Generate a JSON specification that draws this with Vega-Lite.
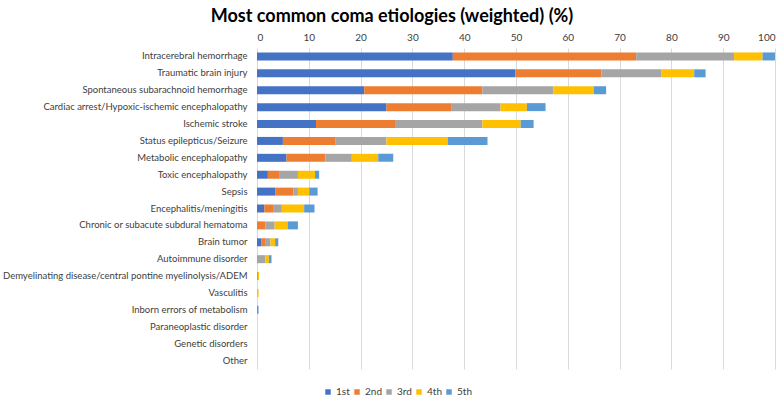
{
  "$schema": "https://vega.github.io/schema/vega-lite/v6.json",
  "width": 518,
  "height": 321,
  "autosize": {"type": "none"},
  "padding": {"left": 257, "top": 48, "right": 9, "bottom": 27},
  "background": "white",
  "title": {
    "text": "Most common coma etiologies (weighted) (%)",
    "font": "Lato",
    "fontSize": 18,
    "fontWeight": "bold",
    "color": "#000000",
    "anchor": "middle",
    "dx": -124,
    "offset": 6
  },
  "data": {
    "values": [
      {"etiology": "Intracerebral hemorrhage", "rank": "1st", "r": 1, "value": 37.8},
      {"etiology": "Intracerebral hemorrhage", "rank": "2nd", "r": 2, "value": 35.4},
      {"etiology": "Intracerebral hemorrhage", "rank": "3rd", "r": 3, "value": 18.9},
      {"etiology": "Intracerebral hemorrhage", "rank": "4th", "r": 4, "value": 5.5},
      {"etiology": "Intracerebral hemorrhage", "rank": "5th", "r": 5, "value": 2.4},
      {"etiology": "Traumatic brain injury", "rank": "1st", "r": 1, "value": 49.9},
      {"etiology": "Traumatic brain injury", "rank": "2nd", "r": 2, "value": 16.6},
      {"etiology": "Traumatic brain injury", "rank": "3rd", "r": 3, "value": 11.6},
      {"etiology": "Traumatic brain injury", "rank": "4th", "r": 4, "value": 6.3},
      {"etiology": "Traumatic brain injury", "rank": "5th", "r": 5, "value": 2.2},
      {"etiology": "Spontaneous subarachnoid hemorrhage", "rank": "1st", "r": 1, "value": 20.7},
      {"etiology": "Spontaneous subarachnoid hemorrhage", "rank": "2nd", "r": 2, "value": 22.8},
      {"etiology": "Spontaneous subarachnoid hemorrhage", "rank": "3rd", "r": 3, "value": 13.7},
      {"etiology": "Spontaneous subarachnoid hemorrhage", "rank": "4th", "r": 4, "value": 7.8},
      {"etiology": "Spontaneous subarachnoid hemorrhage", "rank": "5th", "r": 5, "value": 2.4},
      {"etiology": "Cardiac arrest/Hypoxic-ischemic encephalopathy", "rank": "1st", "r": 1, "value": 25.0},
      {"etiology": "Cardiac arrest/Hypoxic-ischemic encephalopathy", "rank": "2nd", "r": 2, "value": 12.6},
      {"etiology": "Cardiac arrest/Hypoxic-ischemic encephalopathy", "rank": "3rd", "r": 3, "value": 9.4},
      {"etiology": "Cardiac arrest/Hypoxic-ischemic encephalopathy", "rank": "4th", "r": 4, "value": 5.1},
      {"etiology": "Cardiac arrest/Hypoxic-ischemic encephalopathy", "rank": "5th", "r": 5, "value": 3.6},
      {"etiology": "Ischemic stroke", "rank": "1st", "r": 1, "value": 11.4},
      {"etiology": "Ischemic stroke", "rank": "2nd", "r": 2, "value": 15.4},
      {"etiology": "Ischemic stroke", "rank": "3rd", "r": 3, "value": 16.7},
      {"etiology": "Ischemic stroke", "rank": "4th", "r": 4, "value": 7.4},
      {"etiology": "Ischemic stroke", "rank": "5th", "r": 5, "value": 2.5},
      {"etiology": "Status epilepticus/Seizure", "rank": "1st", "r": 1, "value": 5.0},
      {"etiology": "Status epilepticus/Seizure", "rank": "2nd", "r": 2, "value": 10.2},
      {"etiology": "Status epilepticus/Seizure", "rank": "3rd", "r": 3, "value": 9.8},
      {"etiology": "Status epilepticus/Seizure", "rank": "4th", "r": 4, "value": 11.8},
      {"etiology": "Status epilepticus/Seizure", "rank": "5th", "r": 5, "value": 7.7},
      {"etiology": "Metabolic encephalopathy", "rank": "1st", "r": 1, "value": 5.7},
      {"etiology": "Metabolic encephalopathy", "rank": "2nd", "r": 2, "value": 7.5},
      {"etiology": "Metabolic encephalopathy", "rank": "3rd", "r": 3, "value": 5.1},
      {"etiology": "Metabolic encephalopathy", "rank": "4th", "r": 4, "value": 5.1},
      {"etiology": "Metabolic encephalopathy", "rank": "5th", "r": 5, "value": 2.9},
      {"etiology": "Toxic encephalopathy", "rank": "1st", "r": 1, "value": 2.1},
      {"etiology": "Toxic encephalopathy", "rank": "2nd", "r": 2, "value": 2.3},
      {"etiology": "Toxic encephalopathy", "rank": "3rd", "r": 3, "value": 3.5},
      {"etiology": "Toxic encephalopathy", "rank": "4th", "r": 4, "value": 3.3},
      {"etiology": "Toxic encephalopathy", "rank": "5th", "r": 5, "value": 0.8},
      {"etiology": "Sepsis", "rank": "1st", "r": 1, "value": 3.5},
      {"etiology": "Sepsis", "rank": "2nd", "r": 2, "value": 3.5},
      {"etiology": "Sepsis", "rank": "3rd", "r": 3, "value": 0.9},
      {"etiology": "Sepsis", "rank": "4th", "r": 4, "value": 2.2},
      {"etiology": "Sepsis", "rank": "5th", "r": 5, "value": 1.6},
      {"etiology": "Encephalitis/meningitis", "rank": "1st", "r": 1, "value": 1.4},
      {"etiology": "Encephalitis/meningitis", "rank": "2nd", "r": 2, "value": 1.7},
      {"etiology": "Encephalitis/meningitis", "rank": "3rd", "r": 3, "value": 1.7},
      {"etiology": "Encephalitis/meningitis", "rank": "4th", "r": 4, "value": 4.3},
      {"etiology": "Encephalitis/meningitis", "rank": "5th", "r": 5, "value": 2.0},
      {"etiology": "Chronic or subacute subdural hematoma", "rank": "1st", "r": 1, "value": 0},
      {"etiology": "Chronic or subacute subdural hematoma", "rank": "2nd", "r": 2, "value": 1.6},
      {"etiology": "Chronic or subacute subdural hematoma", "rank": "3rd", "r": 3, "value": 1.8},
      {"etiology": "Chronic or subacute subdural hematoma", "rank": "4th", "r": 4, "value": 2.5},
      {"etiology": "Chronic or subacute subdural hematoma", "rank": "5th", "r": 5, "value": 2.0},
      {"etiology": "Brain tumor", "rank": "1st", "r": 1, "value": 0.8},
      {"etiology": "Brain tumor", "rank": "2nd", "r": 2, "value": 0.9},
      {"etiology": "Brain tumor", "rank": "3rd", "r": 3, "value": 0.9},
      {"etiology": "Brain tumor", "rank": "4th", "r": 4, "value": 0.9},
      {"etiology": "Brain tumor", "rank": "5th", "r": 5, "value": 0.6},
      {"etiology": "Autoimmune disorder", "rank": "1st", "r": 1, "value": 0},
      {"etiology": "Autoimmune disorder", "rank": "2nd", "r": 2, "value": 0},
      {"etiology": "Autoimmune disorder", "rank": "3rd", "r": 3, "value": 1.6},
      {"etiology": "Autoimmune disorder", "rank": "4th", "r": 4, "value": 0.7},
      {"etiology": "Autoimmune disorder", "rank": "5th", "r": 5, "value": 0.5},
      {"etiology": "Demyelinating disease/central pontine myelinolysis/ADEM", "rank": "1st", "r": 1, "value": 0},
      {"etiology": "Demyelinating disease/central pontine myelinolysis/ADEM", "rank": "2nd", "r": 2, "value": 0},
      {"etiology": "Demyelinating disease/central pontine myelinolysis/ADEM", "rank": "3rd", "r": 3, "value": 0.2},
      {"etiology": "Demyelinating disease/central pontine myelinolysis/ADEM", "rank": "4th", "r": 4, "value": 0.2},
      {"etiology": "Demyelinating disease/central pontine myelinolysis/ADEM", "rank": "5th", "r": 5, "value": 0},
      {"etiology": "Vasculitis", "rank": "1st", "r": 1, "value": 0},
      {"etiology": "Vasculitis", "rank": "2nd", "r": 2, "value": 0},
      {"etiology": "Vasculitis", "rank": "3rd", "r": 3, "value": 0},
      {"etiology": "Vasculitis", "rank": "4th", "r": 4, "value": 0.3},
      {"etiology": "Vasculitis", "rank": "5th", "r": 5, "value": 0},
      {"etiology": "Inborn errors of metabolism", "rank": "1st", "r": 1, "value": 0},
      {"etiology": "Inborn errors of metabolism", "rank": "2nd", "r": 2, "value": 0},
      {"etiology": "Inborn errors of metabolism", "rank": "3rd", "r": 3, "value": 0},
      {"etiology": "Inborn errors of metabolism", "rank": "4th", "r": 4, "value": 0},
      {"etiology": "Inborn errors of metabolism", "rank": "5th", "r": 5, "value": 0.3},
      {"etiology": "Paraneoplastic disorder", "rank": "1st", "r": 1, "value": 0},
      {"etiology": "Genetic disorders", "rank": "1st", "r": 1, "value": 0},
      {"etiology": "Other", "rank": "1st", "r": 1, "value": 0}
    ]
  },
  "mark": {"type": "bar", "size": 8},
  "encoding": {
    "y": {
      "field": "etiology",
      "type": "nominal",
      "sort": [
        "Intracerebral hemorrhage",
        "Traumatic brain injury",
        "Spontaneous subarachnoid hemorrhage",
        "Cardiac arrest/Hypoxic-ischemic encephalopathy",
        "Ischemic stroke",
        "Status epilepticus/Seizure",
        "Metabolic encephalopathy",
        "Toxic encephalopathy",
        "Sepsis",
        "Encephalitis/meningitis",
        "Chronic or subacute subdural hematoma",
        "Brain tumor",
        "Autoimmune disorder",
        "Demyelinating disease/central pontine myelinolysis/ADEM",
        "Vasculitis",
        "Inborn errors of metabolism",
        "Paraneoplastic disorder",
        "Genetic disorders",
        "Other"
      ],
      "axis": {
        "title": null,
        "domain": false,
        "ticks": false,
        "labelPadding": 10,
        "labelFont": "Lato",
        "labelFontSize": 9.5,
        "labelColor": "#404040",
        "labelLimit": 300
      }
    },
    "x": {
      "field": "value",
      "type": "quantitative",
      "stack": "zero",
      "scale": {"domain": [0, 100], "nice": false},
      "axis": {
        "orient": "top",
        "title": null,
        "values": [0, 10, 20, 30, 40, 50, 60, 70, 80, 90, 100],
        "domain": false,
        "ticks": false,
        "grid": true,
        "gridColor": "#d9d9d9",
        "labelPadding": 6,
        "labelFont": "Lato",
        "labelFontSize": 10,
        "labelColor": "#404040"
      }
    },
    "color": {
      "field": "rank",
      "type": "nominal",
      "scale": {
        "domain": ["1st", "2nd", "3rd", "4th", "5th"],
        "range": ["#4472C4", "#ED7D31", "#A5A5A5", "#FFC000", "#5B9BD5"]
      },
      "legend": {
        "title": null,
        "orient": "none",
        "direction": "horizontal",
        "legendX": 66,
        "legendY": 339,
        "symbolType": "square",
        "symbolSize": 30,
        "symbolStrokeWidth": 0,
        "labelFont": "Lato",
        "labelFontSize": 10,
        "labelColor": "#404040",
        "columnPadding": 2,
        "labelOffset": 3
      }
    },
    "order": {"field": "r", "type": "quantitative"}
  },
  "config": {"view": {"stroke": null}}
}
